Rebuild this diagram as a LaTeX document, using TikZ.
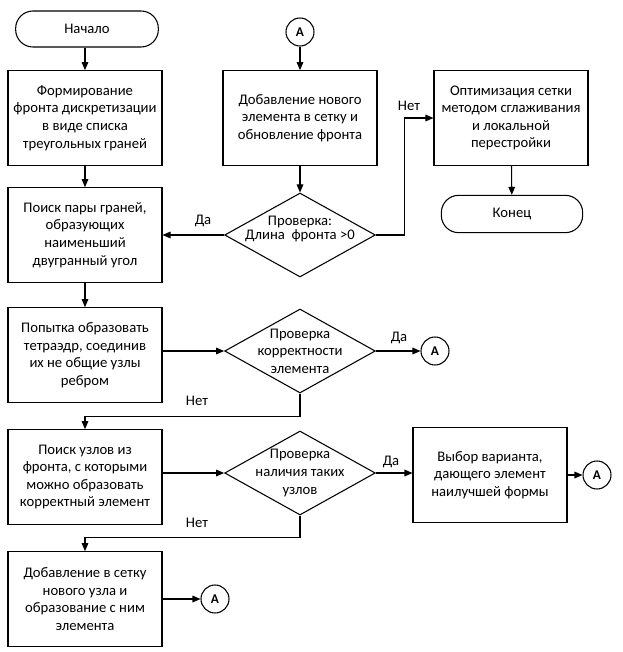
\documentclass[tikz,border=0pt]{standalone}
\usepackage{fontspec}
\setmainfont{Carlito}
\usetikzlibrary{shapes.geometric,arrows.meta,positioning}
\tikzset{
  blok/.style={rectangle,draw,line width=0.8pt,align=center,minimum width=115.5pt,minimum height=71pt,inner sep=2pt},
  term/.style={rectangle,rounded corners=13pt,draw,line width=0.8pt,minimum width=107pt,minimum height=27pt},
  romb/.style={diamond,draw,line width=0.8pt,minimum width=113pt,minimum height=63pt,inner sep=0pt},
  rombtxt/.style={align=center,inner sep=0pt},
  perehod/.style={circle,draw,line width=0.8pt,minimum size=21pt,inner sep=0pt,font=\bfseries},
  strelka/.style={-{Triangle[length=6pt,width=5pt]},line width=0.8pt},
  metka/.style={inner sep=1pt},
}
\begin{document}
\begin{tikzpicture}[x=0.75pt,y=-0.75pt,font=\fontsize{11}{13.2}\selectfont]
\useasboundingbox (0,0) rectangle (622,652);
% левая колонка
\node[term] (start) at (87,29) {Начало};
\node[blok] (b1) at (85,118) {Формирование\\фронта дискретизации\\в виде списка\\треугольных граней};
\node[blok] (b2) at (85,235) {Поиск пары граней,\\образующих\\наименьший\\двугранный угол};
\node[blok] (b3) at (85,355) {Попытка образовать\\тетраэдр, соединив\\их не общие узлы\\ребром};
\node[blok] (b4) at (85,477) {Поиск узлов из\\фронта, с которыми\\можно образовать\\корректный элемент};
\node[blok] (b5) at (85,599) {Добавление в сетку\\нового узла и\\образование с ним\\элемента};
% средняя колонка
\node[perehod] (a1) at (300,32) {А};
\node[blok] (bA) at (300,118) {Добавление нового\\элемента в сетку и\\обновление фронта};
\node[romb] (r1) at (300,235) {};
\node[rombtxt,font=\fontsize{11}{10}\selectfont] (r1t) at (300,229) {Проверка:\\Длина\ \ фронта >0};
\node[romb] (r2) at (300,351) {};
\node[rombtxt] (r2t) at (r2) {Проверка\\корректности\\элемента};
\node[romb] (r3) at (300,473) {};
\node[rombtxt] (r3t) at (r3) {Проверка\\наличия таких\\узлов};
% правая колонка
\node[blok] (opt) at (511,118) {Оптимизация сетки\\методом сглаживания\\и локальной\\перестройки};
\node[term,minimum height=28pt,minimum width=106pt] (konec) at (512,214) {Конец};
\node[blok] (vybor) at (490,475) {Выбор варианта,\\дающего элемент\\наилучшей формы};
\node[perehod] (a2) at (435,351) {А};
\node[perehod] (a3) at (597,475) {А};
\node[perehod] (a4) at (215,599) {А};
% стрелки
\draw[strelka] (start.south -| b1.north) -- (b1.north);
\draw[strelka] (b1) -- (b2);
\draw[strelka] (b2) -- (b3);
\draw[strelka] (a1) -- (bA);
\draw[strelka] (bA) -- (r1);
\draw[strelka] (r1.west) -- (b2.east);
\draw[strelka] (r1.east) -- ++(29,0) |- (opt.west);
\draw[strelka] (opt) -- (konec);
\draw[strelka] (b3.east |- r2) -- (r2.west);
\draw[strelka] (r2.east) -- (a2);
\draw[strelka] (r2.south) -- ++(0,23) -| (b4.north);
\draw[strelka] (b4.east |- r3) -- (r3.west);
\draw[strelka] (r3.east) -- (r3.east -| vybor.west);
\draw[strelka] (vybor.east |- a3) -- (a3);
\draw[strelka] (r3.south) -- ++(0,22) -| (b5.north);
\draw[strelka] (b5.east |- a4) -- (a4);
% подписи
\node[metka] (m1) at (203,221) {Да};
\node[metka] (m2) at (409,106) {Нет};
\node[metka] (m3) at (399,338) {Да};
\node[metka] (m4) at (197,401) {Нет};
\node[metka] (m5) at (391,462) {Да};
\node[metka] (m6) at (197,523) {Нет};
\end{tikzpicture}
\end{document}
